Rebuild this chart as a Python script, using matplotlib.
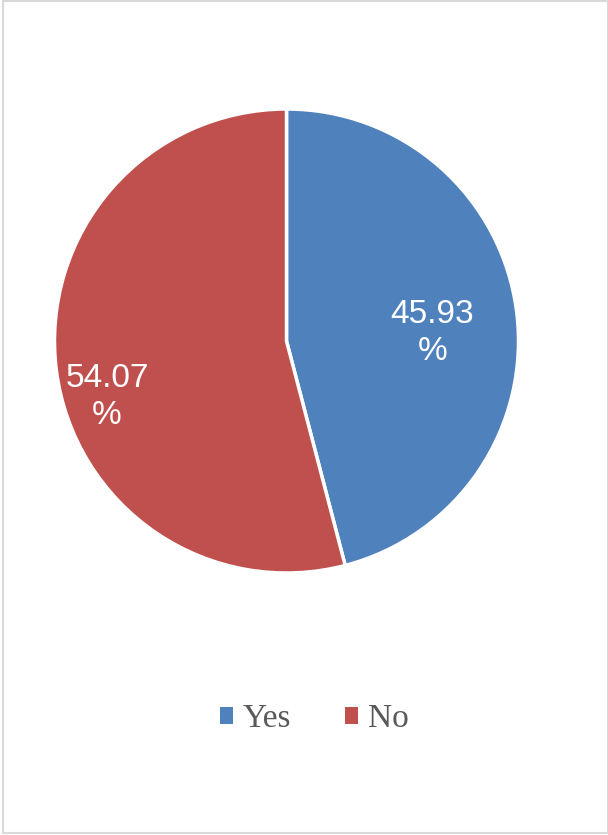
import matplotlib
matplotlib.use("Agg")
import matplotlib.pyplot as plt
import matplotlib.patches as mpatches
import numpy as np

categories = ["Yes", "No"]
values = [45.93, 54.07]
colors = ["#4F81BD", "#C0504D"]
label_texts = ["45.93\n%", "54.07\n%"]

W, H = 608, 835
fig = plt.figure(figsize=(W / 100, H / 100), dpi=100)
fig.patch.set_facecolor("white")

# chart border
fig.patches.append(mpatches.Rectangle((2.5 / W, 2.5 / H), (W - 3) / W, (H - 3.5) / H,
                                      transform=fig.transFigure, fill=False,
                                      edgecolor="#D9D9D9", linewidth=1.5))

cx, cy, r = 286.5, 341, 232
ax = fig.add_axes([(cx - r) / W, (H - cy - r) / H, 2 * r / W, 2 * r / H])
wedges, _ = ax.pie(values, colors=colors, startangle=90, counterclock=False,
                   wedgeprops=dict(edgecolor="white", linewidth=2.5),
                   radius=1.0)
ax.set_xlim(-1, 1)
ax.set_ylim(-1, 1)
ax.set_aspect("equal")
ax.axis("off")

# data labels placed inside wedges (distance, angle offset) like Excel's best-fit
label_pos = [(0.63, -4.3), (0.81, 10.0)]
for w, txt, (d, off) in zip(wedges, label_texts, label_pos):
    ang = np.deg2rad((w.theta1 + w.theta2) / 2 + off)
    ax.text(d * np.cos(ang), d * np.sin(ang), txt, ha="center", va="center",
            color="white", fontsize=24, family="Liberation Sans", linespacing=1.25)

handles = [mpatches.Patch(facecolor=c, edgecolor="none") for c in colors]
leg = fig.legend(handles, categories, loc="center", bbox_to_anchor=(0.517, (H - 719) / H),
                 ncol=2, frameon=False, handlelength=0.4, handleheight=0.4,
                 handletextpad=0.3, columnspacing=1.6,
                 prop=dict(family="Liberation Serif", size=24))
for t in leg.get_texts():
    t.set_color("#595959")

fig.savefig("out.png", dpi=100, facecolor="white")
